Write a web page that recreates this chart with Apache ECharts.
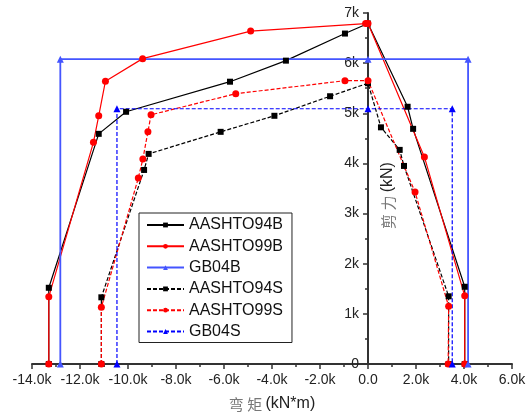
<!DOCTYPE html>
<html>
    <head>
        <meta charset="utf-8" />
        <title>ECharts</title>
        <script src="https://cdn.jsdelivr.net/npm/echarts@6.0.0/dist/echarts.min.js"></script>
    </head>
    <body style="margin:0">
        <div id="main" style="width: 527px;height: 417px;"></div>
        <script type="text/javascript">
            // moment (kN*m) and shear (kN)
            const a94bX = [-13300, -13300, -11220, -10080, -5750, -3420, -960, 0, 1650, 1880, 4030, 4030];
            const a94bY = [0, 1520, 4590, 5030, 5630, 6050, 6590, 6790, 5130, 4690, 1540, 0];

            const a99bX = [-13300, -13300, -11440, -11220, -10940, -9390, -4890, -100, 0, 2350, 4030, 4030];
            const a99bY = [0, 1340, 4420, 4950, 5640, 6090, 6640, 6790, 6790, 4130, 1360, 0];

            const gb04bX = [-12820, -12820, 0, 4170, 4170];
            const gb04bY = [0, 6080, 6080, 6080, 0];

            const a94sX = [-11110, -11110, -9330, -9140, -6140, -3900, -1580, 0, 540, 1320, 1500, 3360, 3360];
            const a94sY = [0, 1330, 3870, 4190, 4630, 4950, 5340, 5600, 4720, 4270, 3950, 1350, 0];

            const a99sX = [-11110, -11110, -9570, -9380, -9170, -9040, -5510, -960, 0, 1960, 3360, 3340];
            const a99sY = [0, 1130, 3710, 4090, 4630, 4970, 5390, 5650, 5650, 3430, 1150, 0];

            const gb04sX = [-10460, -10460, 0, 3510, 3510];
            const gb04sY = [0, 5090, 5090, 5090, 0];

            const names = ['AASHTO94B', 'AASHTO99B', 'GB04B', 'AASHTO94S', 'AASHTO99S', 'GB04S'];

            const xMin = -14000, xMax = 6000;
            const gridLeft = 32, gridRight = 15;

            const zip = (xs, ys) => xs.map((x, i) => [x, ys[i]]);

            const font = 'Liberation Sans, Arial, sans-serif';
            const cjk = 'Noto Sans CJK SC';

            const myChart = echarts.init(document.getElementById('main'));

            // y axis sits at x = 0, so shift it inward from the grid's left edge
            const plotW = 527 - gridLeft - gridRight;
            const zeroOffset = -plotW * (0 - xMin) / (xMax - xMin);

            const makeSeries = (name, xs, ys, color, dashed, symbol, size, width) => ({
                type: 'line',
                name: name,
                data: zip(xs, ys),
                symbol: symbol,
                symbolSize: size,
                showAllSymbol: true,
                itemStyle: { color: color },
                lineStyle: {
                    color: color,
                    width: width,
                    type: dashed ? [4, 2] : 'solid'
                }
            });

            const option = {
                animation: false,
                grid: { left: gridLeft, right: gridRight, top: 13, bottom: 53, outerBoundsMode: 'none', containLabel: false },
                xAxis: {
                    type: 'value',
                    min: xMin,
                    max: xMax,
                    interval: 2000,
                    name: '{a|弯 矩} {b|(kN*m)}',
                    nameLocation: 'middle',
                    nameGap: 32,
                    nameTextStyle: {
                        rich: {
                            a: { fontFamily: cjk, fontSize: 15, color: '#777' },
                            b: { fontFamily: font, fontSize: 16, color: '#222' }
                        }
                    },
                    axisLine: { onZero: false, lineStyle: { color: '#333', width: 2 } },
                    axisTick: { length: 5, lineStyle: { color: '#333', width: 1.5 } },
                    minorTick: { show: true, splitNumber: 2, length: 3, lineStyle: { color: '#333', width: 1.5 } },
                    axisLabel: {
                        fontFamily: font,
                        fontSize: 14,
                        color: '#222',
                        margin: 9,
                        formatter: v => v === 0 ? '0.0' : (v / 1000).toFixed(1) + 'k'
                    },
                    splitLine: { show: false }
                },
                yAxis: {
                    type: 'value',
                    min: 0,
                    max: 7000,
                    interval: 1000,
                    position: 'left',
                    offset: zeroOffset,
                    name: '{a|剪 力} {b|(kN)}',
                    nameLocation: 'middle',
                    nameGap: -28,
                    nameMoveOverlap: false,
                    nameTextStyle: {
                        rich: {
                            a: { fontFamily: cjk, fontSize: 15, color: '#777' },
                            b: { fontFamily: font, fontSize: 16, color: '#222', padding: [0, 14, 0, 0] }
                        }
                    },
                    axisLine: { onZero: false, lineStyle: { color: '#333', width: 2 } },
                    axisTick: { length: 5, lineStyle: { color: '#333', width: 1.5 } },
                    minorTick: { show: true, splitNumber: 2, length: 3, lineStyle: { color: '#333', width: 1.5 } },
                    axisLabel: {
                        fontFamily: font,
                        fontSize: 14,
                        color: '#222',
                        margin: 9,
                        formatter: v => v === 0 ? '0' : (v / 1000) + 'k'
                    },
                    splitLine: { show: false }
                },
                legend: {
                    orient: 'vertical',
                    left: 139,
                    top: 213,
                    data: names,
                    backgroundColor: '#fff',
                    borderColor: '#222',
                    borderWidth: 1,
                    borderRadius: 0,
                    padding: [4, 9, 3, 7],
                    itemGap: 5.3,
                    itemWidth: 37,
                    itemHeight: 6,
                    textStyle: { fontFamily: font, fontSize: 16, color: '#111' }
                },
                series: [
                    makeSeries(names[0], a94bX, a94bY, '#000', false, 'rect', 6, 1.2),
                    makeSeries(names[1], a99bX, a99bY, '#ff0000', false, 'circle', 7, 1.2),
                    makeSeries(names[2], gb04bX, gb04bY, '#4455ff', false, 'triangle', 7, 1.8),
                    makeSeries(names[3], a94sX, a94sY, '#000', true, 'rect', 6, 1.2),
                    makeSeries(names[4], a99sX, a99sY, '#ff0000', true, 'circle', 7, 1.2),
                    makeSeries(names[5], gb04sX, gb04sY, '#0000ff', true, 'triangle', 7, 1.2)
                ]
            };
            myChart.setOption(option);
        </script>
    </body>
</html>
